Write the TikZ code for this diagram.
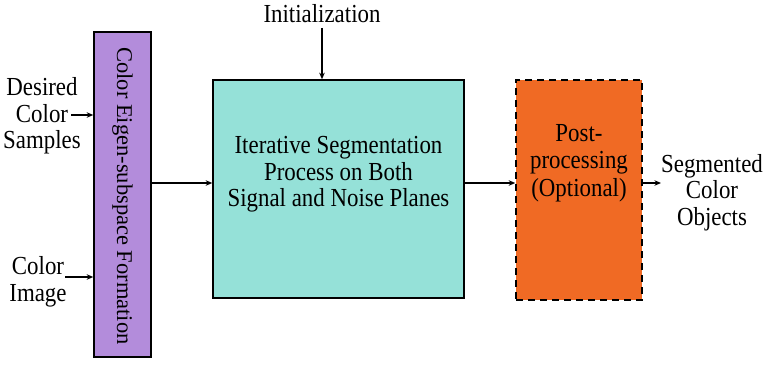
\documentclass[tikz,border=0pt]{standalone}
\usepackage{fontspec}
\setmainfont{Liberation Serif}
\newfontfamily\tallserif[FakeStretch=0.88]{Liberation Serif}
\usetikzlibrary{arrows.meta}
\definecolor{lavender}{HTML}{B38CDB}
\definecolor{aqua}{HTML}{95E1D8}
\definecolor{tangerine}{HTML}{F06A24}
\begin{document}
\begin{tikzpicture}[x=1pt,y=1pt,
  blk/.style={draw=black,line width=1.6pt,inner sep=0pt},
  lbl/.style={font=\tallserif\fontsize{26}{26.5}\selectfont,align=center,inner sep=0pt},
  vlbl/.style={font=\rmfamily\fontsize{22.5}{26}\selectfont,inner sep=0pt,rotate=-90},
  conn/.style={line width=1.4pt,-{Stealth[length=6.5pt,width=5.5pt]}}]
\useasboundingbox (0,0) rectangle (769,365);
% blocks
\node[blk,fill=lavender,minimum width=57pt,minimum height=325pt] (eig) at (122.5,170.5) {};
\node[vlbl] (eigtxt) at (122.5,169) {Color Eigen-subspace Formation};
\node[blk,fill=aqua,minimum width=251pt,minimum height=218pt] (seg) at (338.5,176) {};
\node[lbl] (segtxt) at (338.5,190.5) {Iterative Segmentation\\Process on Both\\Signal and Noise Planes};
\node[blk,dashed,dash pattern=on 7pt off 5pt,fill=tangerine,minimum width=126pt,minimum height=220pt] (post) at (579,175) {};
\node[lbl,font=\tallserif\fontsize{26}{27.5}\selectfont] (posttxt) at (579,202) {Post-\\processing\\(Optional)};
% outer labels
\node[lbl] (init) at (322,351) {Initialization};
\node[lbl] (des) at (42,249) {Desired\\Color\\Samples};
\node[lbl] (img) at (38,83) {Color\\Image};
\node[lbl] (out) at (712,172.5) {Segmented\\Color\\Objects};
% connectors
\coordinate (desend) at (71,250);
\coordinate (imgend) at (65,88);
\coordinate (outend) at (661,182);
\draw[conn] (init.south |- 0,337) -- (init.south |- seg.north);
\draw[conn] (desend) -- (desend -| eig.west);
\draw[conn] (imgend) -- (imgend -| eig.west);
\draw[conn] (eig.east |- 0,182) -- (seg.west |- 0,182);
\draw[conn] (seg.east |- 0,182) -- (post.west |- 0,182);
\draw[conn] (post.east |- outend) -- (outend);
\end{tikzpicture}
\end{document}
